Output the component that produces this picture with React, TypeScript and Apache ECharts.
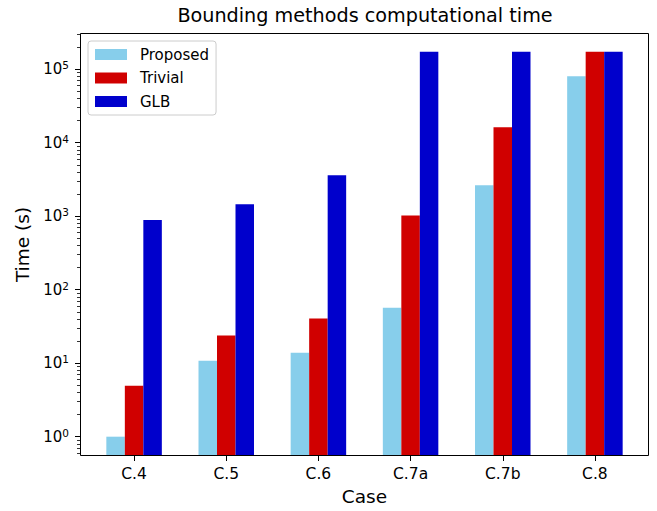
import React, { useEffect, useRef } from "react";
import * as echarts from "echarts";

const categories = ["C.4", "C.5", "C.6", "C.7a", "C.7b", "C.8"];
const proposed = [1, 10.8, 13.9, 57, 2630, 80000];
const trivial = [4.95, 23.8, 40.5, 1025, 16200, 172800];
const glb = [890, 1450, 3600, 172800, 172800, 172800];
const majorTicks = [1, 10, 100, 1000, 10000, 100000];
const yMin = 0.546;
const yMax = 3.11e5;

const minorTicks: number[] = [];
for (let e = -1; e <= 5; e++) {
  for (let k = 2; k <= 9; k++) {
    const v = k * Math.pow(10, e);
    if (v >= yMin && v <= yMax) minorTicks.push(v);
  }
}

const FONT = "DejaVu Sans";

export default function App() {
  const ref = useRef<HTMLDivElement>(null);
  useEffect(() => {
    document.body.style.margin = "0";
    if (!ref.current) return;
    const chart = echarts.init(ref.current, undefined, { renderer: "svg" });
    chart.setOption({
      animation: false,
      textStyle: { fontFamily: FONT, color: "#000" },
      title: {
        text: "Bounding methods computational time",
        left: 365,
        textAlign: "center",
        top: 6,
        padding: 0,
        textStyle: { fontFamily: FONT, fontSize: 19.2, fontWeight: "normal", color: "#000" },
      },
      legend: {
        orient: "vertical",
        left: 88,
        top: 41,
        data: ["Proposed", "Trivial", "GLB"],
        icon: "rect",
        itemWidth: 32,
        itemHeight: 11,
        itemGap: 8.5,
        padding: [6, 7, 6, 7],
        backgroundColor: "#fff",
        borderColor: "#cccccc",
        borderWidth: 1,
        borderRadius: 3,
        textStyle: { fontFamily: FONT, fontSize: 15, color: "#000", padding: [0, 0, 0, 8] },
      },
      grid: { left: 88, right: 16, top: 33, bottom: 55, containLabel: false },
      xAxis: [
        {
          type: "category",
          data: categories,
          name: "Case",
          nameLocation: "middle",
          nameGap: 31,
          nameTextStyle: { fontFamily: FONT, fontSize: 18.5, color: "#000" },
          axisLine: { show: false },
          axisTick: { show: true, alignWithLabel: true, length: 5, lineStyle: { color: "#000", width: 1 } },
          axisLabel: { fontFamily: FONT, fontSize: 15.5, color: "#000", margin: 10 },
          splitLine: { show: false },
        },
      ],
      yAxis: [
        {
          type: "log",
          logBase: 10,
          min: yMin,
          max: yMax,
          startValue: yMin,
          position: "left",
          offset: 8,
          name: "Time (s)",
          nameLocation: "middle",
          nameGap: 46,
          nameTextStyle: { fontFamily: FONT, fontSize: 18.5, color: "#000" },
          axisLine: { show: false },
          splitLine: { show: false },
          axisTick: { show: true, customValues: majorTicks, length: 5, lineStyle: { color: "#000", width: 1 } },
          axisLabel: {
            customValues: majorTicks,
            margin: 11,
            fontFamily: FONT,
            fontSize: 15,
            color: "#000",
            formatter: (v: number) => "10{sup|" + Math.round(Math.log10(v)) + "}",
            rich: {
              sup: { fontFamily: FONT, fontSize: 10.5, color: "#000", padding: [0, 0, 8, 0] },
            },
          },
        },
        {
          type: "log",
          logBase: 10,
          min: yMin,
          max: yMax,
          position: "left",
          offset: 8,
          axisLine: { show: false },
          splitLine: { show: false },
          axisLabel: { show: false },
          axisTick: { show: true, customValues: minorTicks, length: 3, lineStyle: { color: "#000", width: 0.8 } },
        },
      ],
      series: [
        {
          name: "Proposed",
          type: "bar",
          data: proposed,
          barWidth: 18.5,
          barGap: "0%",
          itemStyle: { color: "#87CEEB" },
        },
        {
          name: "Trivial",
          type: "bar",
          data: trivial,
          barWidth: 18.5,
          barGap: "0%",
          itemStyle: { color: "#D00000" },
        },
        {
          name: "GLB",
          type: "bar",
          data: glb,
          barWidth: 18.5,
          barGap: "0%",
          itemStyle: { color: "#0000CC" },
        },
      ],
      graphic: [
        {
          type: "rect",
          z: 10,
          silent: true,
          shape: { x: 80.5, y: 33.5, width: 568, height: 422 },
          style: { fill: "none", stroke: "#000", lineWidth: 1 },
        },
      ],
    });
    return () => chart.dispose();
  }, []);
  return <div ref={ref} style={{ width: 657, height: 511 }} />;
}
